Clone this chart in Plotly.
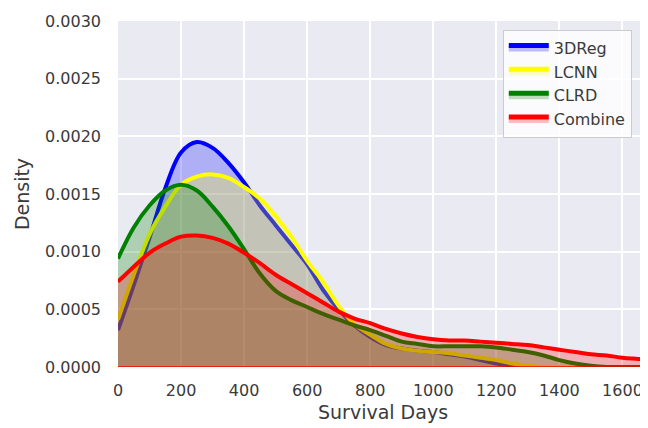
import plotly.graph_objects as go

# ---- data (every 50 days) ----
days = [0, 50, 100, 150, 200, 250, 300, 350, 400, 450, 500, 550, 600, 650, 700, 750, 800, 850,
        900, 950, 1000, 1050, 1100, 1150, 1200, 1250, 1300, 1350, 1400, 1450, 1500, 1550, 1600,
        1650, 1700]

dens_3dreg = [0.00032, 0.00071, 0.00112, 0.00155, 0.00186, 0.00195, 0.00190, 0.00177, 0.00160,
              0.00140, 0.00123, 0.00106, 0.00089, 0.00067, 0.00050, 0.00036, 0.00026, 0.00019,
              0.00016, 0.00014, 0.00013, 0.00011, 0.00009, 0.00006, 0.00003, 0.00001, 0.0,
              0.0, 0.0, 0.0, 0.0, 0.0, 0.0, 0.0, 0.0]

dens_lcnn = [0.00041, 0.00080, 0.00115, 0.00139, 0.00158, 0.00165, 0.00167, 0.00164, 0.00156,
             0.00146, 0.00131, 0.00113, 0.00092, 0.00074, 0.00053, 0.00037, 0.00028, 0.00020,
             0.00016, 0.00014, 0.00013, 0.00012, 0.00010, 0.00008, 0.00006, 0.00003, 0.00001,
             0.0, 0.0, 0.0, 0.0, 0.0, 0.0, 0.0, 0.0]

dens_clrd = [0.00094, 0.00121, 0.00140, 0.00153, 0.00158, 0.00153, 0.00139, 0.00122, 0.00102,
             0.00081, 0.00066, 0.00058, 0.00052, 0.00046, 0.00041, 0.00036, 0.00032, 0.00027,
             0.00022, 0.00020, 0.00018, 0.00018, 0.00018, 0.00018, 0.00017, 0.00015, 0.00013,
             0.00010, 0.00006, 0.00003, 0.00001, 0.0, 0.0, 0.0, 0.0]

dens_comb = [0.00074, 0.00087, 0.00099, 0.00107, 0.00113, 0.00114, 0.00112, 0.00107, 0.00099,
             0.00090, 0.00080, 0.00072, 0.00064, 0.00056, 0.00048, 0.00042, 0.00038, 0.00033,
             0.00029, 0.00026, 0.00024, 0.00023, 0.00023, 0.00022, 0.00021, 0.00020, 0.00019,
             0.00017, 0.00015, 0.00013, 0.00011, 0.00010, 0.00008, 0.00007, 0.00006]

series = [
    ("3DReg", dens_3dreg, "0,0,255"),
    ("LCNN", dens_lcnn, "255,255,0"),
    ("CLRD", dens_clrd, "0,128,0"),
    ("Combine", dens_comb, "255,0,0"),
]

x_ticks = [0, 200, 400, 600, 800, 1000, 1200, 1400, 1600]
y_ticks = [0.0, 0.0005, 0.0010, 0.0015, 0.0020, 0.0025, 0.0030]

fig = go.Figure()
for name, ys, rgb in series:
    fig.add_trace(go.Scatter(
        x=days, y=ys, name=name, mode="lines",
        line=dict(color=f"rgb({rgb})", width=4, shape="spline", smoothing=1.0),
        fill="tozeroy", fillcolor=f"rgba({rgb},0.25)",
    ))

fig.add_shape(type="line", xref="paper", yref="y", x0=0, x1=1, y0=0, y1=0,
              line=dict(color="rgb(255,0,0)", width=1.5))

# page body has an 8px default margin, so the figure is sized to fit the 648x428 window
fig.update_layout(
    width=640, height=420,
    margin=dict(l=110, r=0, t=13, b=61, autoexpand=False),
    paper_bgcolor="white", plot_bgcolor="#EAEAF2",
    font=dict(family="DejaVu Sans", size=16, color="#3a3a3a"),
    legend=dict(x=0.726, y=0.975, xanchor="left", yanchor="top",
                bgcolor="rgba(255,255,255,0.8)", bordercolor="#CCCCCC", borderwidth=1,
                font=dict(size=16, color="#3a3a3a"), itemsizing="constant",
                itemwidth=40, tracegroupgap=0),
    showlegend=True,
)
fig.update_xaxes(range=[0, 1681], tickvals=x_ticks, showgrid=True, gridcolor="white",
                 gridwidth=1.5, zeroline=False, showline=False, ticks="", automargin=False,
                 tickfont=dict(size=16), ticklabelstandoff=12,
                 title=dict(text="Survival Days", font=dict(size=19), standoff=6))
fig.update_yaxes(range=[0, 0.0030], tickvals=y_ticks, tickformat=".4f", showgrid=True,
                 gridcolor="white", gridwidth=1.5, zeroline=False, showline=False, ticks="",
                 automargin=False, tickfont=dict(size=16), ticklabelstandoff=16,
                 title=dict(text="Density", font=dict(size=19), standoff=10))

fig.write_html("out.html")
